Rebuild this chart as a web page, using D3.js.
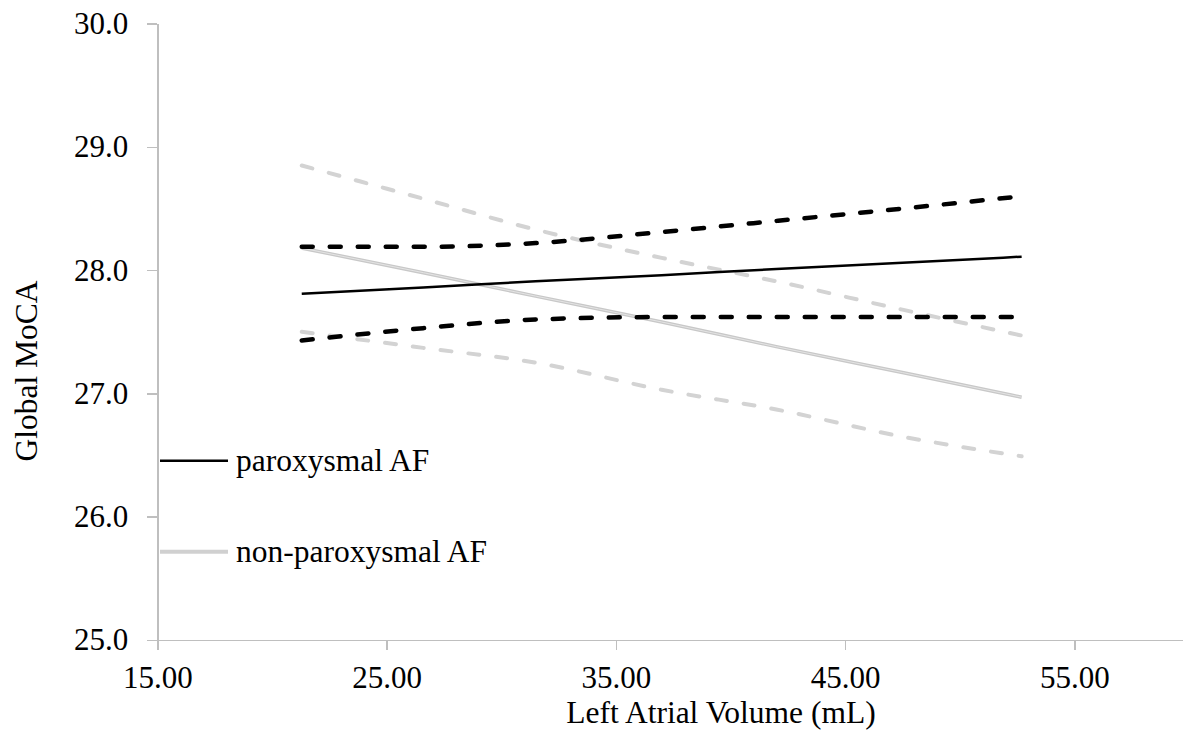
<!DOCTYPE html>
<meta charset="utf-8">
<style>
body { margin: 0; background: #ffffff; }
text { font-family: "Liberation Serif", "Times New Roman", serif; fill: #000000; }
.axis path, .axis line { stroke: #bfbfbf; stroke-width: 1.5; shape-rendering: crispEdges; }
.axis text { font-size: 31px; }
</style>
<body>
<script src="https://cdn.jsdelivr.net/npm/d3@7/dist/d3.min.js"></script>
<script>
// DATA
var volume = [21.3, 26.6, 31.5, 37.0, 42.0, 47.5, 52.7];           // left atrial volume, mL
var parox_fit   = [27.81, 27.86, 27.91, 27.96, 28.01, 28.06, 28.11];
var parox_upper = [28.19, 28.19, 28.22, 28.31, 28.40, 28.50, 28.60];
var parox_lower = [27.43, 27.53, 27.60, 27.62, 27.62, 27.62, 27.62];
var nonparox_fit   = [28.18, 27.98, 27.79, 27.58, 27.38, 27.17, 26.97];
var nonparox_upper = [28.85, 28.58, 28.33, 28.10, 27.91, 27.68, 27.47];
var nonparox_lower = [27.50, 27.37, 27.25, 27.03, 26.87, 26.65, 26.49];
var x_ticks = [15, 25, 35, 45, 55];
var y_ticks = [25, 26, 27, 28, 29, 30];
var legend_labels = ["paroxysmal AF", "non-paroxysmal AF"];

// GENERIC VARIABLES
var width = 1183, height = 733;
var x_left = 157.3, x_right = 1189;
var y_top = 23.7, y_bottom = 640;
var font_size = 31.5;

var canvas = d3.select("body").append("svg")
    .attr("width", width)
    .attr("height", height);

var x = d3.scaleLinear().domain([15, 60]).range([x_left, x_right]);
var y = d3.scaleLinear().domain([25, 30]).range([y_bottom, y_top]);

// AXES
canvas.append("g")
    .attr("class", "axis")
    .attr("transform", "translate(0," + y_bottom + ")")
    .call(d3.axisBottom(x).tickValues(x_ticks).tickFormat(d3.format(".2f"))
        .tickSize(10).tickSizeOuter(0).tickPadding(15.5));

canvas.append("g")
    .attr("class", "axis")
    .attr("transform", "translate(" + x_left + ",0)")
    .call(d3.axisLeft(y).tickValues(y_ticks).tickFormat(d3.format(".1f"))
        .tickSize(10).tickSizeOuter(0).tickPadding(19));

canvas.selectAll(".axis .domain").attr("stroke", "#bfbfbf");
canvas.selectAll(".axis text").attr("fill", "#000");

// AXIS TITLES
canvas.append("text")
    .text("Left Atrial Volume (mL)")
    .attr("font-size", font_size)
    .attr("text-anchor", "middle")
    .attr("x", 721)
    .attr("y", 723);

canvas.append("text")
    .text("Global MoCA")
    .attr("font-size", font_size)
    .attr("text-anchor", "middle")
    .attr("transform", "translate(37,371) rotate(-90)");

// LINES
function draw_series(values, colour, w, dash)
{
  var line = d3.line()
      .x(function(d, i) { return x(volume[i]); })
      .y(function(d) { return y(d); })
      .curve(d3.curveMonotoneX);
  canvas.append("path")
      .datum(values)
      .attr("d", line)
      .attr("fill", "none")
      .attr("stroke", colour)
      .attr("stroke-width", w)
      .attr("stroke-linecap", dash ? "round" : "butt")
      .attr("stroke-dasharray", dash ? "11,17" : null);
}

draw_series(nonparox_upper, "#d3d3d3", 4, true);
draw_series(nonparox_lower, "#d3d3d3", 4, true);
draw_series(nonparox_fit, "#c8c8c8", 3.5, false);
draw_series(nonparox_fit, "#e4e4e4", 1, false);
draw_series(parox_upper, "#000000", 4.5, true);
draw_series(parox_lower, "#000000", 4.5, true);
draw_series(parox_fit, "#000000", 2.5, false);

// LEGEND
var legend = canvas.append("g").attr("id", "legend");
var legend_colours = ["#000000", "#d0d0d0"];
var legend_widths = [2.5, 4];
var legend_y = [460.7, 551.7];
legend_labels.forEach(function(label, i)
{
  legend.append("line")
      .attr("x1", 160).attr("x2", 228)
      .attr("y1", legend_y[i]).attr("y2", legend_y[i])
      .attr("stroke", legend_colours[i])
      .attr("stroke-width", legend_widths[i]);
  legend.append("text")
      .text(label)
      .attr("font-size", font_size)
      .attr("x", 236)
      .attr("y", legend_y[i] + 10);
});
</script>
